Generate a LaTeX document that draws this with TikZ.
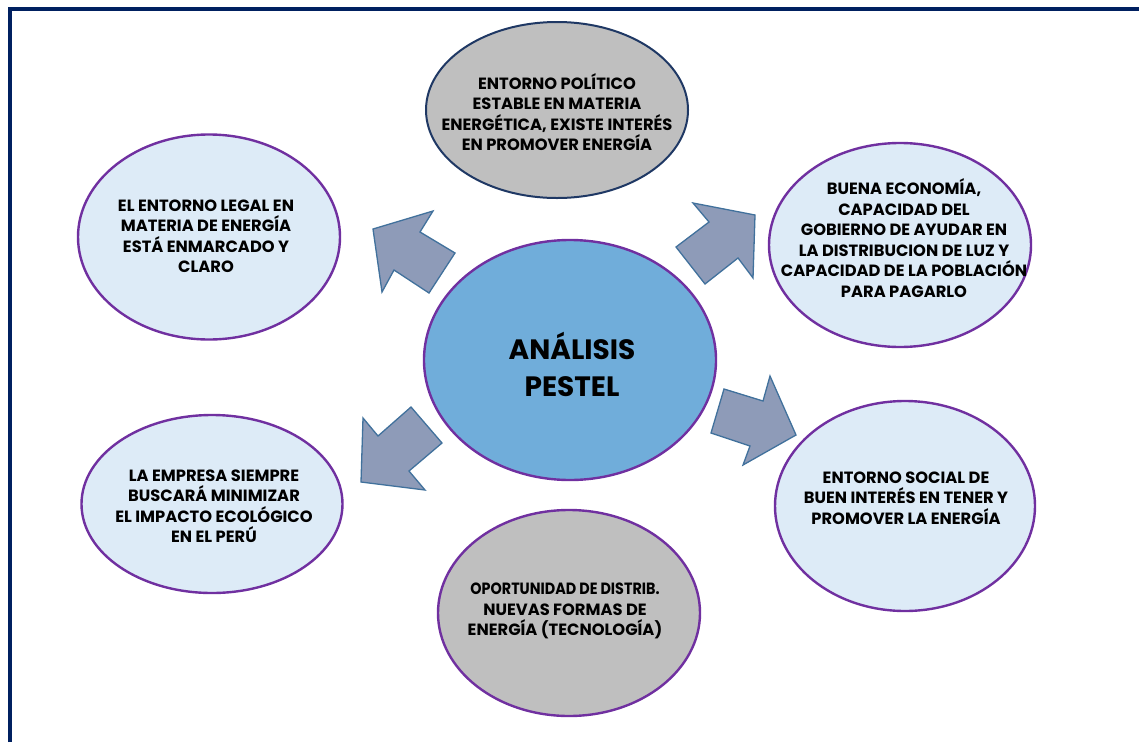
\documentclass[tikz,border=0pt]{standalone}
\usepackage{fontspec}
\setmainfont{Poppins}
\begin{document}
\begin{tikzpicture}[x=1pt,y=-1pt,
  ell/.style={ellipse, draw=purp, line width=2.4pt, fill=lightb, inner sep=0pt},
  txt/.style={align=center, font=\bfseries\fontsize{16.3}{20.5}\selectfont, text=black},
  blk/.style={fill=arrowf, draw=arrowd, line width=1.3pt, line join=miter}
]
\usetikzlibrary{shapes.geometric}
\definecolor{purp}{HTML}{7030A0}
\definecolor{lightb}{HTML}{DDEBF7}
\definecolor{grayf}{HTML}{BFBFBF}
\definecolor{navy}{HTML}{002060}
\definecolor{darkb}{HTML}{1F3864}
\definecolor{centerf}{HTML}{70ADDA}
\definecolor{arrowf}{HTML}{8E9BB8}
\definecolor{arrowd}{HTML}{41719C}
\useasboundingbox (0,0) rectangle (1139,742);
% frame
\draw[navy, line width=4pt] (10,742) -- (10,9) -- (1139,9);
% ellipses
\node[ell, draw=darkb, line width=2pt, fill=grayf, minimum width=262pt, minimum height=176pt] (pol) at (557,110) {};
\node[ell, minimum width=262pt, minimum height=205pt] (leg) at (209,237) {};
\node[ell, minimum width=262pt, minimum height=204pt] (eco) at (900,245) {};
\node[ell, fill=centerf, minimum width=292pt, minimum height=240pt] (cen) at (570,360) {};
\node[ell, minimum width=261pt, minimum height=178pt] (eco2) at (212,504) {};
\node[ell, minimum width=260pt, minimum height=210pt] (soc) at (905,506) {};
\node[ell, fill=grayf, minimum width=262pt, minimum height=206pt] (tec) at (569,613) {};
% texts
\node[txt] (tpol) at (557,112) {ENTORNO POLÍTICO\\ESTABLE EN MATERIA\\ENERGÉTICA, EXISTE INTERÉS\\EN PROMOVER ENERGÍA};
\node[txt] (tleg) at (206,236) {EL ENTORNO LEGAL EN\\MATERIA DE ENERGÍA\\ESTÁ ENMARCADO Y\\CLARO};
\node[txt] (teco) at (904,238) {BUENA ECONOMÍA,\\CAPACIDAD DEL\\GOBIERNO DE AYUDAR EN\\LA DISTRIBUCION DE LUZ Y\\CAPACIDAD DE LA POBLACIÓN\\PARA PAGARLO};
\node[txt, font=\bfseries\fontsize{28}{37}\selectfont] (tcen) at (572,364) {ANÁLISIS\\PESTEL};
\node[txt] (teco2) at (214,506) {LA EMPRESA SIEMPRE\\BUSCARÁ MINIMIZAR\\EL IMPACTO ECOLÓGICO\\EN EL PERÚ};
\node[txt] (tsoc) at (906,498) {ENTORNO SOCIAL DE\\BUEN INTERÉS EN TENER Y\\PROMOVER LA ENERGÍA};
\node[txt] (ttec) at (565,611) {\scalebox{0.88}[1]{OPORTUNIDAD DE DISTRIB.}\\NUEVAS FORMAS DE\\ENERGÍA (TECNOLOGÍA)};
% block arrows
\draw[blk] (373,229) -- (433,211) -- (420,232) -- (455,253) -- (429,293) -- (394,270) -- (382,292) -- cycle;
\draw[blk] (755,215) -- (753,278) -- (738,258) -- (705,284) -- (676,247) -- (709,222) -- (693,203) -- cycle;
\draw[blk] (796,435) -- (743,465) -- (750,446) -- (711,433) -- (724,389) -- (763,401) -- (770,376) -- cycle;
\draw[blk] (361,482) -- (363,418) -- (378,436) -- (411,407) -- (442,443) -- (409,471) -- (425,490) -- cycle;
\end{tikzpicture}
\end{document}
